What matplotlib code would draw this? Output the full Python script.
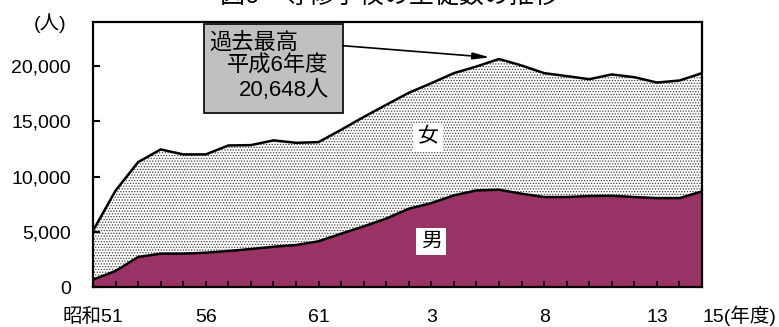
import matplotlib
matplotlib.use("Agg")
import matplotlib.pyplot as plt
from matplotlib.patches import Rectangle
import numpy as np

plt.rcParams['font.family'] = ['Liberation Sans', 'Noto Sans CJK JP']
plt.rcParams['hatch.color'] = '#404040'
plt.rcParams['hatch.linewidth'] = 0.6

# 昭和51年度 (1976) から 平成15年度 (2003) まで
years = list(range(1976, 2004))
total = [5100, 8730, 11310, 12460, 12010, 12010, 12820, 12850, 13280, 13060,
         13120, 14240, 15400, 16500, 17590, 18460, 19370, 19970, 20648, 20060,
         19370, 19100, 18820, 19250, 19000, 18520, 18700, 19370]
male = [670, 1450, 2720, 3020, 3020, 3110, 3260, 3440, 3650, 3800,
        4140, 4830, 5490, 6200, 7090, 7600, 8300, 8750, 8810, 8450,
        8150, 8150, 8240, 8260, 8150, 8050, 8050, 8660]
tick_years = [1976, 1981, 1986, 1991, 1996, 2001, 2003]
tick_labels = ['昭和51', '56', '61', '3', '8', '13', '15(年度)']
y_ticks = [0, 5000, 10000, 15000, 20000]

x = np.arange(len(years))
total_a = np.array(total)
male_a = np.array(male)

fig = plt.figure(figsize=(7.79, 3.27), dpi=100)
ax = fig.add_axes([0.1194, 0.1223, 0.7818, 0.8104])

# 女 (total minus male) as dotted band, 男 as solid fill
ax.fill_between(x, male_a, total_a, facecolor='white', edgecolor='#404040',
                hatch='......', linewidth=0)
ax.fill_between(x, 0, male_a, facecolor='#993366', linewidth=0)
ax.plot(x, total_a, color='black', lw=1.8)
ax.plot(x, male_a, color='black', lw=1.8)

ax.set_xlim(0, len(years) - 1)
ax.set_ylim(0, 24000)

ax.set_yticks(y_ticks)
ax.set_yticklabels([f'{v:,}' for v in y_ticks], fontsize=14)
ax.tick_params(axis='y', direction='in', length=5, width=1.5, pad=16)

ax.set_xticks(x, minor=True)
ax.set_xticks([years.index(y) for y in tick_years])
ax.set_xticklabels(tick_labels, fontsize=14)
ax.tick_params(axis='x', which='both', direction='in', length=4.5, width=1.2, pad=25)
for lab in ax.get_xticklabels():
    lab.set_verticalalignment('baseline')
ax.get_xticklabels()[-1].set_horizontalalignment('left')

for s in ax.spines.values():
    s.set_linewidth(1.6)
    s.set_color('black')

# peak annotation
box = Rectangle((0.1823, 0.6566), 0.2282, 0.3344, transform=ax.transAxes,
                facecolor='#c0c0c0', edgecolor='black', linewidth=1.2, zorder=5)
ax.add_patch(box)
ax.text(0.1905, 0.921, '過去最高', transform=ax.transAxes, fontsize=16,
        ha='left', va='center', zorder=6)
ax.text(0.220, 0.834, '平成6年度', transform=ax.transAxes, fontsize=16,
        ha='left', va='center', zorder=6)
peak_i = int(np.argmax(total_a))
ax.text(0.2397, 0.743, f'{total[peak_i]:,}人', transform=ax.transAxes, fontsize=16,
        ha='left', va='center', zorder=6)
ax.annotate('', xy=(peak_i - 0.4, total[peak_i] + 150), xycoords='data',
            xytext=(0.4105, 0.9106), textcoords='axes fraction',
            arrowprops=dict(arrowstyle='-|>,head_length=1.0,head_width=0.2',
                            color='black', lw=1.2, shrinkA=0, shrinkB=0),
            zorder=6)

ax.text(0.550, 0.567, '女', transform=ax.transAxes, fontsize=15, ha='center',
        va='center', bbox=dict(facecolor='white', edgecolor='none', pad=3), zorder=6)
ax.text(0.555, 0.171, '男', transform=ax.transAxes, fontsize=15, ha='center',
        va='center', bbox=dict(facecolor='white', edgecolor='none', pad=3), zorder=6)

fig.text(0.064, 0.93, '(人)', fontsize=14, ha='center', va='center')
fig.text(0.5, 1.012, '図6\u3000専修学校の生徒数の推移', fontsize=18, ha='center', va='center')

fig.savefig('out.png', dpi=100)
